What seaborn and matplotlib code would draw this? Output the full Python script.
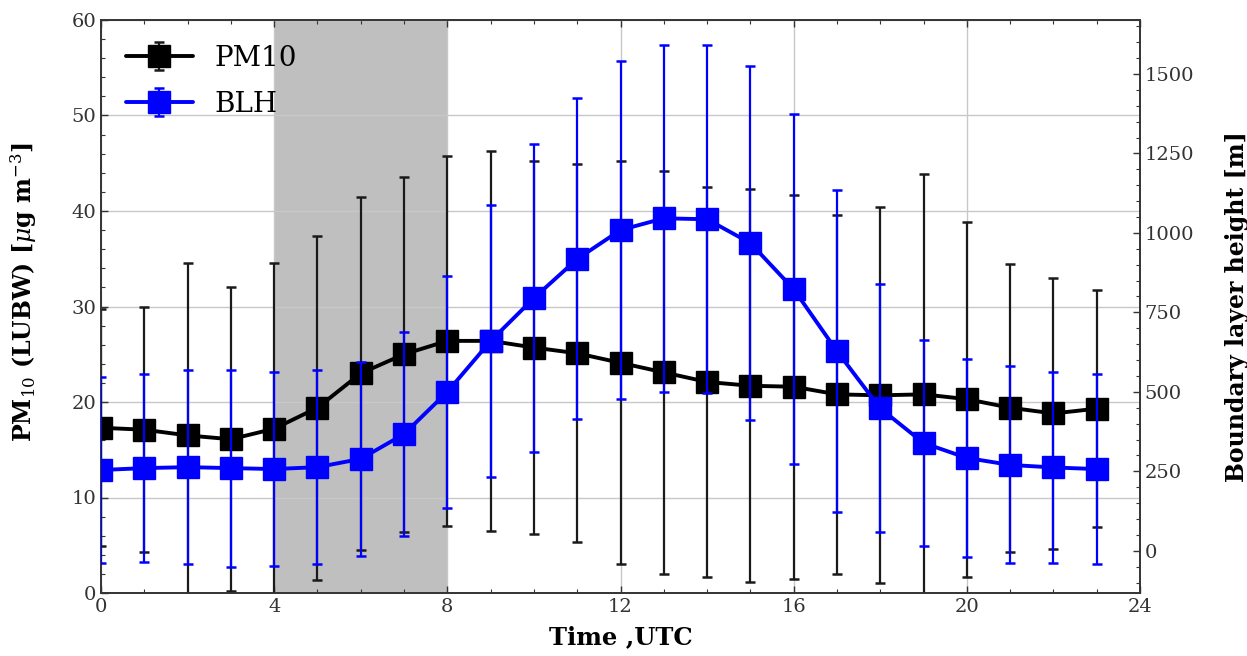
import numpy as np
import pandas as pd
import seaborn as sns
import matplotlib
matplotlib.use("Agg")
import matplotlib.pyplot as plt
from matplotlib.ticker import MultipleLocator

# ---- data ----
hours = list(range(24))
pm10_mean = [17.3, 17.1, 16.5, 16.1, 17.2, 19.4, 23.0, 25.0, 26.4, 26.4, 25.7, 25.1,
             24.1, 23.1, 22.1, 21.7, 21.6, 20.8, 20.7, 20.8, 20.3, 19.4, 18.8, 19.3]
pm10_err = [12.4, 12.8, 18.1, 15.9, 17.4, 18.0, 18.5, 18.6, 19.4, 19.9, 19.5, 19.8,
            21.1, 21.1, 20.4, 20.6, 20.1, 18.8, 19.7, 23.1, 18.6, 15.1, 14.2, 12.4]
blh_mean = [254, 260, 263, 260, 257, 263, 289, 367, 500, 660, 795, 918,
            1009, 1046, 1043, 968, 823, 628, 448, 339, 292, 270, 262, 257]
blh_err = [293, 295, 306, 310, 306, 306, 305, 321, 366, 427, 484, 505,
           532, 545, 547, 558, 550, 506, 390, 323, 312, 310, 300, 300]
night_span = (4, 8)
labels = ["PM10", "BLH"]

df = pd.DataFrame({"hour": hours, "pm10": pm10_mean, "pm10_err": pm10_err,
                   "blh": blh_mean, "blh_err": blh_err})

sns.set_theme(style="ticks")
plt.rcParams["font.family"] = ["DejaVu Serif"]
plt.rcParams["mathtext.fontset"] = "dejavuserif"

fig = plt.figure(figsize=(12.47, 6.56), dpi=100)
ax1 = fig.add_axes([101/1247, 1-593/656, (1140-101)/1247, (593-20)/656])
ax2 = ax1.twinx()

ax1.axvspan(*night_span, color="gray", alpha=0.5, lw=0, zorder=0)
ax1.grid(True, which="major", color="#c8c8c8", lw=1.0, zorder=0.5)
ax1.set_axisbelow(True)

h1 = ax1.errorbar(df["hour"], df["pm10"], yerr=df["pm10_err"], color="black",
                  ecolor="#1a1a1a", marker="s", markersize=15.5, lw=2.8,
                  elinewidth=1.6, capsize=3.5, capthick=1.8, label=labels[0], zorder=3)
h2 = ax2.errorbar(df["hour"], df["blh"], yerr=df["blh_err"], color="blue",
                  ecolor="blue", marker="s", markersize=15.5, lw=2.8,
                  elinewidth=1.6, capsize=3.5, capthick=1.8, label=labels[1], zorder=3)

ax1.set_xlim(0, 24)
ax1.set_ylim(0, 60)
ax2.set_ylim(-133, 1670)

ax1.xaxis.set_major_locator(MultipleLocator(4))
ax1.xaxis.set_minor_locator(MultipleLocator(1))
ax1.yaxis.set_major_locator(MultipleLocator(10))
ax1.yaxis.set_minor_locator(MultipleLocator(2))
ax2.yaxis.set_major_locator(MultipleLocator(250))
ax2.yaxis.set_minor_locator(MultipleLocator(50))

tc = "#333333"
ax1.tick_params(axis="x", which="both", direction="in", top=True, bottom=True,
                labelsize=14, colors=tc)
ax1.tick_params(axis="y", which="both", direction="in", left=True, right=False,
                labelsize=14, colors=tc)
ax1.tick_params(which="major", length=5, width=1)
ax1.tick_params(which="minor", length=3, width=0.8)
ax2.tick_params(axis="y", which="both", direction="in", right=True, left=False,
                labelsize=14, colors=tc)
ax2.tick_params(which="major", length=5, width=1)
ax2.tick_params(which="minor", length=3, width=0.8)
for a in (ax1, ax2):
    for s in a.spines.values():
        s.set_color(tc)
        s.set_linewidth(1.2)

ax1.set_xlabel("Time ,UTC", fontsize=17.5, fontweight="bold", labelpad=7,
               color="black")
ax1.set_ylabel(r"PM$_{10}$ (LUBW) [$\mu$g m$^{-3}$]", fontsize=17,
               fontweight="bold", color="black")
ax1.yaxis.set_label_coords(-0.060, 0.525)
ax2.set_ylabel("Boundary layer height [m]", fontsize=17, fontweight="bold",
               labelpad=22, color="black")

leg = ax1.legend([h1, h2], labels, loc="upper left", frameon=False, fontsize=20,
                 handlelength=2.4, borderaxespad=0.5, handletextpad=0.8,
                 labelspacing=0.68)
for t in leg.get_texts():
    t.set_color("black")

fig.savefig("out.png", dpi=100)
